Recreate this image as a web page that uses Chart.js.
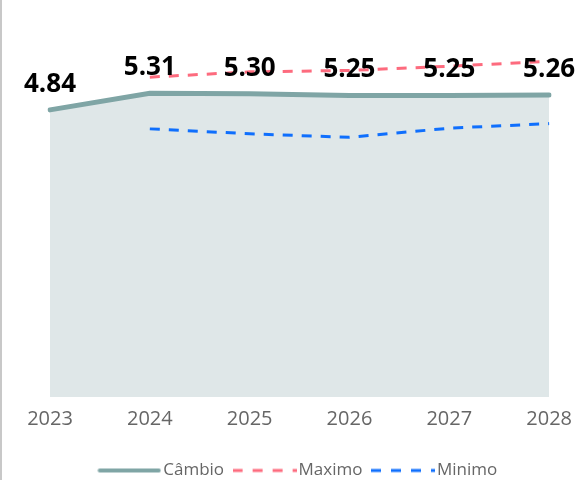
<!DOCTYPE html>
<html>
<head>
<meta charset="utf-8">
<script src="https://cdn.jsdelivr.net/npm/chart.js@4.4.1/dist/chart.umd.min.js"></script>
<style>
  html, body { margin: 0; padding: 0; background: #fff; }
  #wrap { position: relative; width: 582px; height: 480px; }
  #edge { position: absolute; left: 0; top: 0; width: 2px; height: 480px; background: #c8c8c8; }
</style>
</head>
<body>
<div id="wrap">
  <canvas id="cambioChart" width="582" height="480"></canvas>
  <div id="edge"></div>
</div>
<script>
// anos e projeções do câmbio
const years = ['2023', '2024', '2025', '2026', '2027', '2028'];
const cambio = [4.84, 5.31, 5.30, 5.25, 5.25, 5.26];
const maximo = [null, 5.77, 5.92, 5.96, 6.08, 6.22];
const minimo = [null, 4.30, 4.16, 4.06, 4.32, 4.45];

const colors = { cambio: '#7fa5a5', area: '#dfe7e8', maximo: '#fd6b7e', minimo: '#0f6ffd' };

// pequeno desenho da legenda (linha cheia ou tracejada)
function swatch(color, width, dash, cap) {
    const c = document.createElement('canvas');
    c.width = 64;
    c.height = 8;
    const g = c.getContext('2d');
    g.strokeStyle = color;
    g.lineWidth = width;
    g.lineCap = cap;
    g.setLineDash(dash);
    g.beginPath();
    g.moveTo(cap === 'round' ? 2.5 : 0, 4);
    g.lineTo(cap === 'round' ? 61.5 : 64, 4);
    g.stroke();
    return c;
}
const swatches = [
    swatch(colors.cambio, 4, [], 'round'),
    swatch(colors.maximo, 3, [10, 10], 'butt'),
    swatch(colors.minimo, 3, [10, 10], 'butt')
];

// rótulos de valor em cima da linha do câmbio
const valueLabels = {
    id: 'valueLabels',
    afterDatasetsDraw(chart) {
        const ctx = chart.ctx;
        const meta = chart.getDatasetMeta(0);
        ctx.save();
        ctx.font = 'bold 26px "Open Sans"';
        ctx.fillStyle = '#000';
        ctx.textAlign = 'center';
        ctx.textBaseline = 'alphabetic';
        meta.data.forEach((pt, i) => {
            ctx.fillText(cambio[i].toFixed(2), pt.x, pt.y - 18);
        });
        ctx.restore();
    }
};

const ctx = document.getElementById('cambioChart');

new Chart(ctx, {
    type: 'line',
    data: {
        labels: years,
        datasets: [{
            label: 'Câmbio',
            data: cambio,
            borderColor: colors.cambio,
            backgroundColor: colors.area,
            borderWidth: 5,
            borderCapStyle: 'round',
            fill: 'start',
            pointRadius: 0,
            tension: 0
        }, {
            label: 'Maximo',
            data: maximo,
            borderColor: colors.maximo,
            borderWidth: 3,
            borderDash: [10, 9],
            fill: false,
            pointRadius: 0,
            tension: 0
        }, {
            label: 'Minimo',
            data: minimo,
            borderColor: colors.minimo,
            borderWidth: 3,
            borderDash: [10, 9],
            fill: false,
            pointRadius: 0,
            tension: 0
        }]
    },
    options: {
        responsive: false,
        animation: false,
        layout: {
            padding: { top: 30, left: 50, right: 31, bottom: -9 }
        },
        scales: {
            x: {
                offset: false,
                grid: { display: false, drawTicks: false },
                border: { display: false },
                ticks: {
                    padding: 10,
                    color: '#666',
                    font: { family: 'Open Sans', size: 20 }
                },
                afterFit(scale) {
                    scale.height += 6;
                }
            },
            y: {
                display: false,
                min: -3.32,
                max: 7.11
            }
        },
        plugins: {
            filler: { drawTime: 'beforeDatasetsDraw' },
            legend: {
                position: 'bottom',
                labels: {
                    usePointStyle: true,
                    pointStyleWidth: 51,
                    padding: 15,
                    color: '#666',
                    font: { family: 'Open Sans', size: 17 },
                    generateLabels(chart) {
                        const items = Chart.defaults.plugins.legend.labels.generateLabels(chart);
                        items.forEach((it, i) => { it.pointStyle = swatches[i]; });
                        return items;
                    }
                }
            },
            tooltip: { enabled: false }
        }
    },
    plugins: [valueLabels]
});
</script>
</body>
</html>
